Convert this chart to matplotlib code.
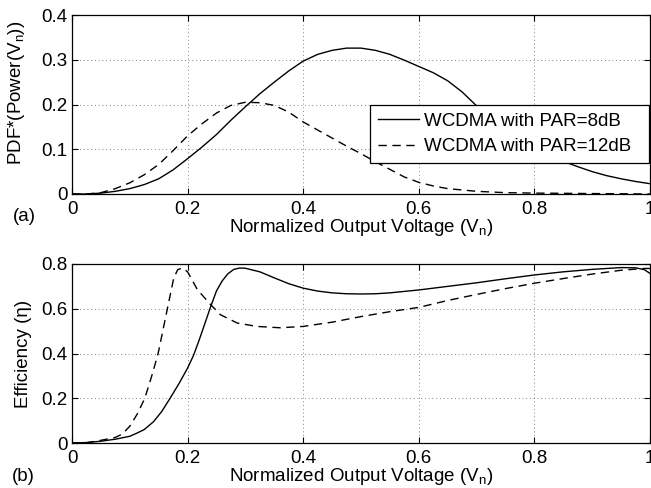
import matplotlib.pyplot as plt
import numpy as np

plt.rcParams["font.family"] = ["Liberation Sans", "DejaVu Sans"]
plt.rcParams["mathtext.fontset"] = "custom"
plt.rcParams["mathtext.rm"] = "Liberation Sans"
plt.rcParams["font.size"] = 13.5

# (a) PDF * power
x_pdf8 = [0, 0.025, 0.05, 0.075, 0.1, 0.125, 0.15, 0.175, 0.2, 0.225, 0.25, 0.275,
          0.3, 0.325, 0.35, 0.375, 0.4, 0.425, 0.45, 0.475, 0.5, 0.525, 0.55, 0.575,
          0.6, 0.625, 0.65, 0.675, 0.7, 0.725, 0.75, 0.775, 0.8, 0.825, 0.85, 0.875,
          0.9, 0.925, 0.95, 0.975, 1.0]
pdf8 = [0, 0.0, 0.002, 0.006, 0.012, 0.021, 0.034, 0.054, 0.079, 0.105, 0.133, 0.165,
        0.195, 0.224, 0.25, 0.275, 0.297, 0.312, 0.321, 0.326, 0.326, 0.321, 0.312, 0.299,
        0.285, 0.271, 0.253, 0.228, 0.197, 0.17, 0.146, 0.124, 0.105, 0.088, 0.073, 0.061,
        0.05, 0.041, 0.034, 0.028, 0.023]

x_pdf12 = [0, 0.025, 0.05, 0.075, 0.1, 0.125, 0.15, 0.175, 0.2, 0.225, 0.25, 0.275,
           0.3, 0.325, 0.35, 0.375, 0.4, 0.425, 0.45, 0.475, 0.5, 0.525, 0.55, 0.575,
           0.6, 0.625, 0.65, 0.7, 0.75, 0.8, 0.9, 1.0]
pdf12 = [0, 0, 0.003, 0.012, 0.025, 0.043, 0.066, 0.097, 0.13, 0.157, 0.181, 0.198,
         0.205, 0.204, 0.198, 0.183, 0.161, 0.143, 0.125, 0.107, 0.09, 0.072, 0.055, 0.038,
         0.026, 0.018, 0.012, 0.006, 0.003, 0.002, 0.001, 0.0]

# (b) efficiency
x_eff8 = [0, 0.025, 0.05, 0.075, 0.1, 0.113, 0.125, 0.141, 0.155, 0.169, 0.185, 0.2,
          0.21, 0.22, 0.23, 0.24, 0.25, 0.26, 0.27, 0.28, 0.29, 0.3, 0.325, 0.35,
          0.375, 0.4, 0.425, 0.45, 0.475, 0.5, 0.525, 0.55, 0.6, 0.65, 0.7, 0.75,
          0.8, 0.85, 0.9, 0.95, 0.975, 0.99, 1.0]
eff8 = [0, 0.002, 0.008, 0.017, 0.03, 0.045, 0.06, 0.095, 0.14, 0.197, 0.265, 0.335,
        0.39, 0.46, 0.535, 0.61, 0.68, 0.725, 0.757, 0.776, 0.782, 0.781, 0.765, 0.738,
        0.712, 0.692, 0.679, 0.671, 0.667, 0.666, 0.667, 0.671, 0.684, 0.7, 0.716, 0.734,
        0.751, 0.765, 0.776, 0.784, 0.783, 0.775, 0.758]

x_eff12 = [0, 0.025, 0.05, 0.075, 0.087, 0.1, 0.113, 0.126, 0.138, 0.149, 0.157, 0.165,
           0.176, 0.183, 0.191, 0.2, 0.217, 0.24, 0.257, 0.286, 0.32, 0.36, 0.4, 0.45,
           0.5, 0.55, 0.6, 0.65, 0.7, 0.75, 0.8, 0.85, 0.9, 0.95, 0.99, 1.0]
eff12 = [0, 0.001, 0.012, 0.025, 0.04, 0.075, 0.13, 0.2, 0.3, 0.4, 0.5, 0.6,
         0.737, 0.775, 0.782, 0.765, 0.685, 0.618, 0.573, 0.536, 0.521, 0.515, 0.521, 0.54,
         0.565, 0.587, 0.606, 0.637, 0.664, 0.69, 0.714, 0.735, 0.755, 0.772, 0.78, 0.78]

xticks = [0, 0.2, 0.4, 0.6, 0.8, 1]
xticklabels = ["0", "0.2", "0.4", "0.6", "0.8", "1"]

fig = plt.figure(figsize=(6.51, 4.88), dpi=100)
ax1 = fig.add_axes([72 / 651, 1 - 194 / 488, 578 / 651, 179 / 488])
ax2 = fig.add_axes([72 / 651, 1 - 443 / 488, 578 / 651, 179 / 488])

dash = (0, (6, 4))
ax1.plot(x_pdf8, pdf8, color="k", lw=1.0, label="WCDMA with PAR=8dB")
ax1.plot(x_pdf12, pdf12, color="k", lw=1.0, linestyle=dash, label="WCDMA with PAR=12dB")
ax2.plot(x_eff8, eff8, color="k", lw=1.0)
ax2.plot(x_eff12, eff12, color="k", lw=1.0, linestyle=dash)

ax1.set_ylim(0, 0.4)
ax1.set_yticks([0, 0.1, 0.2, 0.3, 0.4])
ax1.set_yticklabels(["0", "0.1", "0.2", "0.3", "0.4"])
ax2.set_ylim(0, 0.8)
ax2.set_yticks([0, 0.2, 0.4, 0.6, 0.8])
ax2.set_yticklabels(["0", "0.2", "0.4", "0.6", "0.8"])

for ax in (ax1, ax2):
    ax.set_xlim(0, 1)
    ax.set_xticks(xticks)
    ax.set_xticklabels(xticklabels)
    ax.grid(True, color="0.35", linestyle=(0, (1, 3.5)), lw=0.6)
    ax.tick_params(direction="in", top=True, right=True, length=4, width=0.8)
    ax.tick_params(axis="x", pad=5)
    ax.tick_params(axis="y", pad=3)
    for s in ax.spines.values():
        s.set_linewidth(0.9)
    ax.set_xlabel(r"Normalized Output Voltage ($\mathregular{V_n}$)", labelpad=-1)

ax1.set_ylabel(r"PDF*(Power($\mathregular{V_n}$))")
ax1.yaxis.set_label_coords(-0.078, 0.565)
ax2.set_ylabel("Efficiency (η)")
ax2.yaxis.set_label_coords(-0.07, 0.5)

leg = ax1.legend(loc="upper left", bbox_to_anchor=(0.5156, 0.173, 0.4824, 0.324),
                 mode="expand", borderaxespad=0,
                 fancybox=False, edgecolor="k", framealpha=1, handlelength=2.2,
                 borderpad=0.4, labelspacing=0.45, handletextpad=0.3, fontsize=13.5)
leg.get_frame().set_linewidth(0.9)

fig.text(13 / 651, 1 - 221 / 488, "(a)", fontsize=13.5)
fig.text(12 / 651, 1 - 481 / 488, "(b)", fontsize=13.5)

plt.savefig("out.png", dpi=100)
